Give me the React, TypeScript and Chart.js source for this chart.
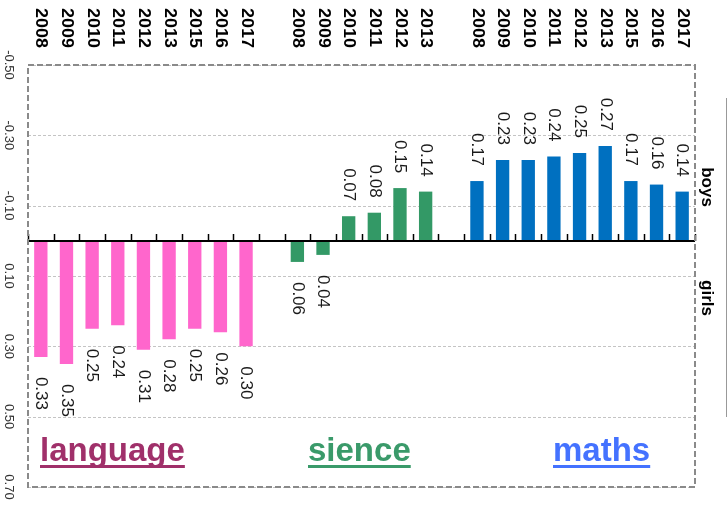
import React, { useEffect, useRef } from 'react';
import { Chart, registerables } from 'chart.js';

Chart.register(...registerables);

// ---- data ----
const langYears = ['2008', '2009', '2010', '2011', '2012', '2013', '2015', '2016', '2017'];
const langValues = [0.33, 0.35, 0.25, 0.24, 0.31, 0.28, 0.25, 0.26, 0.30]; // girls (+)
const sciYears = ['2008', '2009', '2010', '2011', '2012', '2013'];
const sciValues = [0.06, 0.04, -0.07, -0.08, -0.15, -0.14];
const mathYears = ['2008', '2009', '2010', '2011', '2012', '2013', '2015', '2016', '2017'];
const mathValues = [-0.17, -0.23, -0.23, -0.24, -0.25, -0.27, -0.17, -0.16, -0.14]; // boys (-)

const yTickValues = [-0.5, -0.3, -0.1, 0.1, 0.3, 0.5, 0.7];
const yTickLabels = ['-0.50', '-0.30', '-0.10', '0.10', '0.30', '0.50', '0.70'];
const subjectNames = ['language', 'sience', 'maths'];
const sideLabels = ['boys', 'girls'];

const categories = [...langYears, '', ...sciYears, '', ...mathYears];
const values: (number | null)[] = [...langValues, null, ...sciValues, null, ...mathValues];

const PINK = '#FF66CC';
const GREEN = '#339966';
const BLUE = '#0070C0';
const barColors = [
  ...langYears.map(() => PINK),
  'rgba(0,0,0,0)',
  ...sciYears.map(() => GREEN),
  'rgba(0,0,0,0)',
  ...mathYears.map(() => BLUE),
];
const subjectColors = ['#A0306A', '#3A9A6A', '#4472FF'];
const subjectX = [40, 308, 553];

const FONT = '"Liberation Sans", Arial, sans-serif';

const overlay = {
  id: 'overlay',
  beforeDatasetsDraw(chart: any) {
    const { ctx, chartArea: a, scales } = chart;
    const y = scales.y;
    ctx.save();
    ctx.strokeStyle = '#c4c4c4';
    ctx.lineWidth = 1;
    ctx.setLineDash([3, 2]);
    yTickValues.forEach((v) => {
      const py = Math.round(y.getPixelForValue(v)) + 0.5;
      ctx.beginPath();
      ctx.moveTo(a.left, py);
      ctx.lineTo(a.right, py);
      ctx.stroke();
    });
    ctx.restore();
  },
  afterDatasetsDraw(chart: any) {
    const { ctx, chartArea: a, scales } = chart;
    const x = scales.x;
    const y = scales.y;
    const n = categories.length;
    const cw = (a.right - a.left) / n;

    ctx.save();
    // zero axis line
    const y0 = Math.round(y.getPixelForValue(0));
    ctx.strokeStyle = '#000';
    ctx.lineWidth = 2;
    ctx.beginPath();
    ctx.moveTo(a.left, y0);
    ctx.lineTo(a.right, y0);
    ctx.stroke();
    ctx.lineWidth = 1.5;
    for (let i = 0; i <= n; i++) {
      const bx = Math.round(x.getPixelForValue(0) - cw / 2 + i * cw) + 0.5;
      ctx.beginPath();
      ctx.moveTo(bx, y0);
      ctx.lineTo(bx, y0 - 7);
      ctx.stroke();
    }

    // dashed border
    ctx.strokeStyle = '#8a8a8a';
    ctx.lineWidth = 2;
    ctx.setLineDash([6, 3]);
    ctx.strokeRect(a.left, a.top, a.right - a.left, a.bottom - a.top);
    ctx.setLineDash([]);

    // data labels
    const meta = chart.getDatasetMeta(0);
    ctx.fillStyle = '#1a1a1a';
    ctx.font = `17px ${FONT}`;
    ctx.textBaseline = 'middle';
    values.forEach((v, i) => {
      if (v === null) return;
      const el = meta.data[i];
      const txt = Math.abs(v).toFixed(2);
      ctx.save();
      if (v < 0) {
        ctx.translate(el.x, el.y - 15);
        ctx.rotate(Math.PI / 2);
        ctx.textAlign = 'right';
      } else {
        ctx.translate(el.x, el.y + 20);
        ctx.rotate(Math.PI / 2);
        ctx.textAlign = 'left';
      }
      ctx.fillText(txt, 0, 0);
      ctx.restore();
    });

    // year labels at top
    ctx.fillStyle = '#000';
    ctx.font = `bold 16px ${FONT}`;
    categories.forEach((c, i) => {
      if (!c) return;
      ctx.save();
      ctx.translate(x.getPixelForValue(i), 8);
      ctx.rotate(Math.PI / 2);
      ctx.scale(1.12, 1);
      ctx.textAlign = 'left';
      ctx.textBaseline = 'middle';
      ctx.fillText(c, 0, 0);
      ctx.restore();
    });

    // y tick labels
    ctx.fillStyle = '#333';
    ctx.font = `13px ${FONT}`;
    yTickValues.forEach((v, i) => {
      ctx.save();
      ctx.translate(9, y.getPixelForValue(v));
      ctx.rotate(Math.PI / 2);
      ctx.textAlign = 'center';
      ctx.textBaseline = 'middle';
      ctx.fillText(yTickLabels[i], 0, 0);
      ctx.restore();
    });

    // boys / girls
    ctx.fillStyle = '#000';
    ctx.font = `bold 17px ${FONT}`;
    const sideY = [187, 298];
    sideLabels.forEach((s, i) => {
      ctx.save();
      ctx.translate(707, sideY[i]);
      ctx.rotate(Math.PI / 2);
      ctx.textAlign = 'center';
      ctx.textBaseline = 'middle';
      ctx.fillText(s, 0, 0);
      ctx.restore();
    });

    // right thin line
    ctx.strokeStyle = '#999';
    ctx.lineWidth = 1;
    ctx.beginPath();
    ctx.moveTo(726.5, 98);
    ctx.lineTo(726.5, 417);
    ctx.stroke();

    // subject words
    ctx.font = `bold 33px ${FONT}`;
    ctx.textAlign = 'left';
    ctx.textBaseline = 'alphabetic';
    subjectNames.forEach((s, i) => {
      ctx.fillStyle = subjectColors[i];
      ctx.fillText(s, subjectX[i], 461);
      const w = ctx.measureText(s).width;
      ctx.fillRect(subjectX[i], 465, w, 3);
    });

    ctx.restore();
  },
};

export default function App() {
  const ref = useRef<HTMLCanvasElement | null>(null);
  useEffect(() => {
    document.body.style.margin = '0';
    if (!ref.current) return;
    const chart = new Chart(ref.current, {
      type: 'bar',
      data: {
        labels: categories,
        datasets: [
          {
            data: values,
            backgroundColor: barColors,
            borderWidth: 0,
            categoryPercentage: 1,
            barPercentage: 0.52,
          },
        ],
      },
      options: {
        animation: false,
        responsive: false,
        maintainAspectRatio: false,
        layout: { padding: { left: 28, right: 32, top: 65, bottom: 19 } },
        plugins: { legend: { display: false }, tooltip: { enabled: false } },
        scales: {
          x: { type: 'category', display: false, offset: true },
          y: { type: 'linear', display: false, min: -0.5, max: 0.7, reverse: true },
        },
      },
      plugins: [overlay],
    });
    return () => chart.destroy();
  }, []);
  return (
    <div style={{ width: 727, height: 506 }}>
      <canvas ref={ref} width={727} height={506} style={{ display: 'block' }} />
    </div>
  );
}
